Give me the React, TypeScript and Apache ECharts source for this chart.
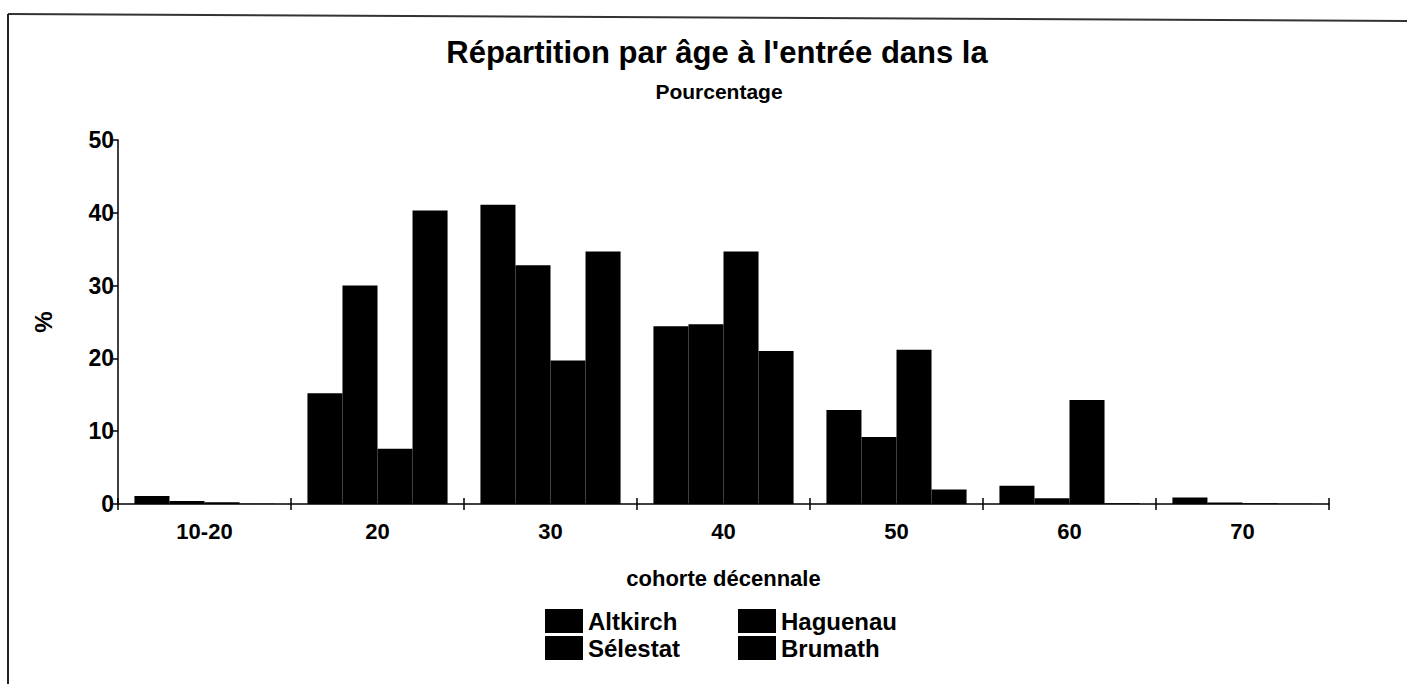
import React, { useEffect, useRef } from "react";
import * as echarts from "echarts";

const categories = ["10-20", "20", "30", "40", "50", "60", "70"];
const seriesNames = ["Altkirch", "Haguenau", "Sélestat", "Brumath"];
const altkirch = [1.1, 15.2, 41.1, 24.4, 12.9, 2.5, 0.9];
const haguenau = [0.4, 30.0, 32.8, 24.7, 9.2, 0.8, 0.2];
const selestat = [0.25, 7.6, 19.7, 34.7, 21.2, 14.3, 0.1];
const brumath = [0.05, 40.3, 34.7, 21.0, 2.0, 0.1, 0.05];
const yTicks = [0, 10, 20, 30, 40, 50];

const FONT = "'Liberation Sans', Arial, sans-serif";

export default function App() {
  const ref = useRef<HTMLDivElement>(null);
  useEffect(() => {
    document.body.style.margin = "0";
    const chart = echarts.init(ref.current!, null, { renderer: "svg" });
    const values = [altkirch, haguenau, selestat, brumath];
    const catAxisBase = {
      type: "category",
      data: categories,
      position: "bottom",
      boundaryGap: true,
    };
    chart.setOption({
      animation: false,
      backgroundColor: "#ffffff",
      title: [
        {
          text: "Répartition par âge à l'entrée dans la",
          left: 712,
          top: 32,
          textAlign: "center",
          textStyle: { fontFamily: FONT, fontWeight: "bold", fontSize: 31, color: "#000" },
        },
        {
          text: "Pourcentage",
          left: 714,
          top: 76,
          textAlign: "center",
          textStyle: { fontFamily: FONT, fontWeight: "bold", fontSize: 21, color: "#000" },
        },
      ],
      grid: { left: 118, top: 140, width: 1211, height: 364 },
      legend: [
        {
          data: [seriesNames[0], seriesNames[2]],
          orient: "vertical",
          left: 545,
          top: 609,
          padding: 0,
          itemWidth: 38,
          itemHeight: 24,
          itemGap: 3,
          icon: "rect",
          textStyle: { fontFamily: FONT, fontWeight: "bold", fontSize: 24, color: "#000" },
        },
        {
          data: [seriesNames[1], seriesNames[3]],
          orient: "vertical",
          left: 738,
          top: 609,
          padding: 0,
          itemWidth: 38,
          itemHeight: 24,
          itemGap: 3,
          icon: "rect",
          textStyle: { fontFamily: FONT, fontWeight: "bold", fontSize: 24, color: "#000" },
        },
      ],
      xAxis: [
        {
          ...catAxisBase,
          name: "cohorte décennale",
          nameLocation: "middle",
          nameGap: 63,
          nameTextStyle: { fontFamily: FONT, fontWeight: "bold", fontSize: 22, color: "#000" },
          axisLine: { show: true, lineStyle: { color: "#000", width: 1.5 } },
          axisTick: { show: true, length: 6, lineStyle: { color: "#000", width: 1.5 } },
          axisLabel: { fontFamily: FONT, fontWeight: "bold", fontSize: 22, color: "#000", margin: 16 },
          splitLine: { show: false },
        },
        {
          ...catAxisBase,
          axisLine: { show: false },
          axisTick: { show: true, inside: true, length: 6, lineStyle: { color: "#000", width: 1.5 } },
          axisLabel: { show: false },
          splitLine: { show: false },
        },
      ],
      yAxis: {
        type: "value",
        min: yTicks[0],
        max: yTicks[yTicks.length - 1],
        interval: 10,
        name: "%",
        nameLocation: "middle",
        nameGap: 63,
        nameRotate: 90,
        nameTextStyle: { fontFamily: FONT, fontWeight: "bold", fontSize: 24, color: "#000" },
        axisLine: { show: true, lineStyle: { color: "#000", width: 1.5 } },
        axisTick: { show: true, length: 5, lineStyle: { color: "#000", width: 1.5 } },
        axisLabel: { fontFamily: FONT, fontWeight: "bold", fontSize: 23, color: "#000", margin: 4 },
        splitLine: { show: false },
      },
      series: seriesNames.map((name, i) => ({
        name,
        type: "bar",
        xAxisIndex: 0,
        data: values[i],
        barGap: "0%",
        barCategoryGap: "19%",
        itemStyle: { color: "#000" },
      })),
      graphic: [
        {
          type: "line",
          shape: { x1: 8, y1: 14, x2: 1407, y2: 21 },
          style: { stroke: "#333", lineWidth: 2 },
        },
        {
          type: "line",
          shape: { x1: 8, y1: 14, x2: 8, y2: 684 },
          style: { stroke: "#222", lineWidth: 2 },
        },
      ],
    });
    return () => chart.dispose();
  }, []);
  return <div ref={ref} style={{ width: 1407, height: 684 }} />;
}
